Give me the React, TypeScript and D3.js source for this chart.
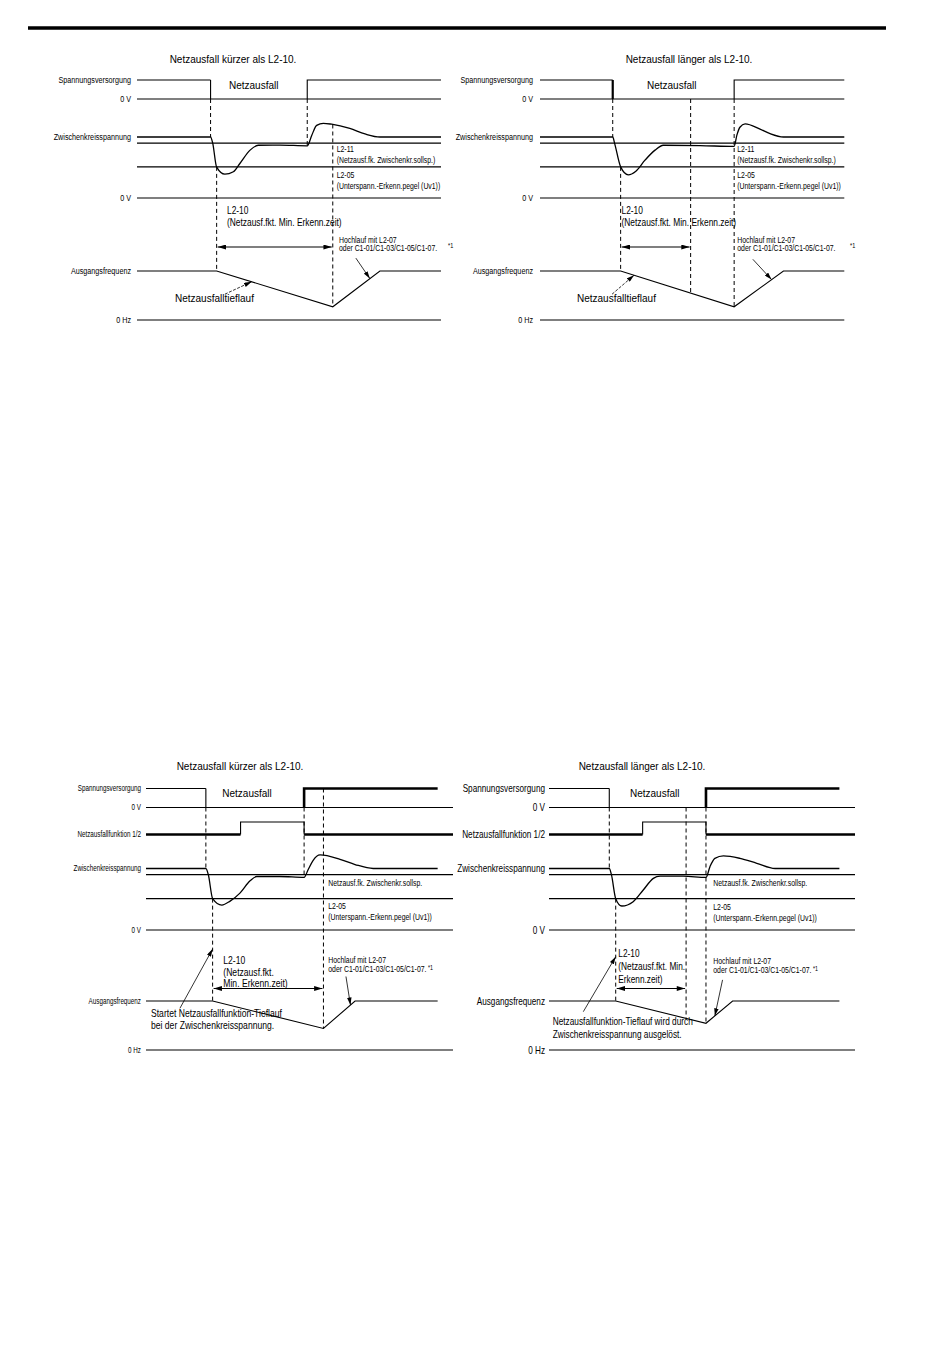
import * as d3 from 'd3';

type Pt = [number, number];

const FONT = "'Liberation Sans', Arial, Helvetica, sans-serif";

// ---------- texts ----------
const TITLES = ['Netzausfall kürzer als L2-10.', 'Netzausfall länger als L2-10.'];
const OUTAGE = 'Netzausfall';
const ROWS_TOP = ['Spannungsversorgung', '0 V', 'Zwischenkreisspannung', '0 V', 'Ausgangsfrequenz', '0 Hz'];
const ROWS_BOTTOM = ['Spannungsversorgung', '0 V', 'Netzausfallfunktion 1/2', 'Zwischenkreisspannung', '0 V', 'Ausgangsfrequenz', '0 Hz'];
const TXT_REF_TOP = ['L2-11', '(Netzausf.fk. Zwischenkr.sollsp.)', 'L2-05', '(Unterspann.-Erkenn.pegel (Uv1))'];
const TXT_REF_BOTTOM = ['Netzausf.fk. Zwischenkr.sollsp.', 'L2-05', '(Unterspann.-Erkenn.pegel (Uv1))'];
const TXT_TIMER_TOP = ['L2-10', '(Netzausf.fkt. Min. Erkenn.zeit)'];
const TXT_TIMER_BL = ['L2-10', '(Netzausf.fkt.', 'Min. Erkenn.zeit)'];
const TXT_TIMER_BR = ['L2-10', '(Netzausf.fkt. Min.', 'Erkenn.zeit)'];
const TXT_ACCEL = ['Hochlauf mit L2-07', 'oder C1-01/C1-03/C1-05/C1-07.'];
const TXT_DECEL_TOP = ['Netzausfalltieflauf'];
const TXT_DECEL_BL = ['Startet Netzausfallfunktion-Tieflauf', 'bei der Zwischenkreisspannung.'];
const TXT_DECEL_BR = ['Netzausfallfunktion-Tieflauf wird durch', 'Zwischenkreisspannung ausgelöst.'];
const NOTE = '*1';

// ---------- values ----------
// DC bus thresholds in % of nominal: L2-11, L2-05
const BUS_LEVELS = [90, 51];

// event times in % of each time axis
const EV_TL = { drop: 24.2, detect: 26.2, restore: 56.0, timerEnd: 64.4, end: 100, pulse: 0 };
const EV_TR = { drop: 23.9, detect: 26.5, restore: 63.8, timerEnd: 49.5, end: 100, pulse: 0 };
const EV_BL = { drop: 19.5, detect: 21.7, restore: 51.5, timerEnd: 57.8, end: 95, pulse: 30.8 };
const EV_BR = { drop: 19.7, detect: 21.8, restore: 51.3, timerEnd: 44.8, end: 94.9, pulse: 30.6 };

// DC bus voltage (time %, voltage % of nominal)
const BUS_TL: Pt[] = [[0, 100], [24.2, 100], [24.9, 90], [26.2, 50.5], [28.9, 39], [31.7, 43], [33.9, 57], [37.2, 78.5], [39.9, 86.5], [47, 86.8], [56, 85.5], [57.5, 103], [59.1, 119], [61.3, 122.5], [64, 121], [70, 114], [75, 105], [79.9, 100], [100, 100]];
const BUS_TR: Pt[] = [[0, 100], [23.9, 100], [24.5, 90], [26.5, 51], [29, 38], [31.5, 44], [34.5, 62], [37.8, 78.5], [40.5, 86.5], [52.6, 86], [63.8, 84.5], [64.7, 103], [65.7, 116], [67.4, 121.5], [72.3, 113], [75.6, 105.5], [80, 100], [100, 100]];
const BUS_BL: Pt[] = [[0, 100], [19.5, 100], [20.3, 90], [21.7, 51], [24.7, 40.5], [27.4, 47], [30.6, 60], [33.9, 80], [36.1, 87], [43.6, 87], [51.5, 85.5], [52.8, 98], [54.4, 113], [56.7, 122], [63.2, 115], [68.1, 106.5], [74, 100], [95, 100]];
const BUS_BR: Pt[] = [[0, 100], [19.7, 100], [20.4, 90], [21.8, 51], [23.8, 39], [27.5, 46], [30.8, 65], [34.1, 84], [36.3, 87.5], [43.9, 87.5], [51.3, 85.5], [52.6, 103], [54.2, 116.5], [57, 120.5], [62.4, 116.5], [67.9, 108.5], [73.9, 100], [94.9, 100]];

// output frequency (time %, % of set frequency)
const FREQ_TL: Pt[] = [[0, 100], [26.2, 100], [64.4, 27], [79.9, 100], [100, 100]];
const FREQ_TR: Pt[] = [[0, 100], [26.5, 100], [63.8, 27], [80, 100], [100, 100]];
const FREQ_BL: Pt[] = [[0, 100], [21.7, 100], [57.8, 44], [68.1, 100], [95, 100]];
const FREQ_BR: Pt[] = [[0, 100], [21.8, 100], [51.3, 54.5], [60, 100], [94.9, 100]];

// ---------- layout ----------
const TOP_ROWS = { supplyHi: 80, supplyLo: 99, funcHi: 0, funcLo: 0, busNom: 137, busZero: 198, freqHi: 271, freqLo: 320 };
const BOTTOM_ROWS = { supplyHi: 788.5, supplyLo: 807.5, funcHi: 822, funcLo: 834.5, busNom: 868.5, busZero: 930, freqHi: 1001, freqLo: 1050 };

const BOX_TL = {
  ...TOP_ROWS, x0: 137, x1: 441, labelX: 131, labelSize: 9.5, labelSx: 0.76,
  titleX: 233, titleY: 59.5, outageX: 229, outageY: 85.5,
  refX: 336.7, refY: [149, 160, 175.5, 186.5],
  timerX: 227, timerY: [210.5, 222.5], timerSize: 10, timerSx: 0.84, arrowY: 247,
  accelX: 339, accelY: [240, 248.5], noteX: 448, noteY: 246,
  decelX: 175, decelY: [298], decelSize: 10, decelSx: 1,
  decelTipT: 37.7, decelTipY: null as number | null, decelTail: [-26.7, 12.4] as Pt,
  accelTipT: 76.6, accelTail: [-14, -20.5] as Pt, dropThick: false,
};
const BOX_TR = {
  ...BOX_TL, x0: 540, x1: 844.3, labelX: 533,
  titleX: 689, outageX: 647,
  refX: 737.3, timerX: 621.5, accelX: 737.3, noteX: 850,
  decelX: 577, decelTipT: 30.9, decelTail: [-22, 19] as Pt,
  accelTipT: 76.1, accelTail: [-18.7, -20.3] as Pt, dropThick: true,
};
const BOX_BL = {
  ...BOTTOM_ROWS, x0: 146, x1: 453, labelX: 141, labelSize: 8.5, labelSx: 0.74,
  titleX: 240, titleY: 766, outageX: 222.3, outageY: 793,
  refX: 328.3, refY: [883.3, 906.5, 917],
  timerX: 223.3, timerY: [960.5, 972, 983.5], timerSize: 10, timerSx: 0.86, arrowY: 988.5,
  accelX: 328.3, accelY: [960, 969.5], noteX: 0, noteY: 0,
  decelX: 151, decelY: [1013, 1025.5], decelSize: 10, decelSx: 0.86,
  decelTipT: EV_BL.detect, decelTipY: 949 as number | null, decelTail: [-32.7, 59.3] as Pt,
  accelTipT: 66.6, accelTail: [-4.5, -28.5] as Pt, dropThick: false,
};
const BOX_BR = {
  ...BOX_BL, x0: 549, x1: 855, labelX: 545, labelSize: 10, labelSx: 0.82,
  titleX: 642, outageX: 630,
  refX: 713.3, refY: [883, 906.7, 918],
  timerX: 618.3, timerY: [953.3, 966.5, 979], timerSx: 0.83,
  accelX: 713.3, accelY: [960.7, 970],
  decelX: 552.7, decelY: [1021.5, 1034.5], decelSx: 0.83,
  decelTipT: EV_BR.detect, decelTipY: 956.7 as number | null, decelTail: [-32.4, 55] as Pt,
  accelTipT: 54.2, accelTail: [7.7, -36] as Pt,
};

type Box = typeof BOX_TL;

interface PanelCfg {
  title: string; rows: string[]; ev: typeof EV_TL; bus: Pt[]; freq: Pt[];
  long: boolean; bottom: boolean; box: Box; refs: string[]; timer: string[]; decel: string[];
}

const PANELS: PanelCfg[] = [
  { title: TITLES[0], rows: ROWS_TOP, ev: EV_TL, bus: BUS_TL, freq: FREQ_TL, long: false, bottom: false, box: BOX_TL, refs: TXT_REF_TOP, timer: TXT_TIMER_TOP, decel: TXT_DECEL_TOP },
  { title: TITLES[1], rows: ROWS_TOP, ev: EV_TR, bus: BUS_TR, freq: FREQ_TR, long: true, bottom: false, box: BOX_TR, refs: TXT_REF_TOP, timer: TXT_TIMER_TOP, decel: TXT_DECEL_TOP },
  { title: TITLES[0], rows: ROWS_BOTTOM, ev: EV_BL, bus: BUS_BL, freq: FREQ_BL, long: false, bottom: true, box: BOX_BL, refs: TXT_REF_BOTTOM, timer: TXT_TIMER_BL, decel: TXT_DECEL_BL },
  { title: TITLES[1], rows: ROWS_BOTTOM, ev: EV_BR, bus: BUS_BR, freq: FREQ_BR, long: true, bottom: true, box: BOX_BR, refs: TXT_REF_BOTTOM, timer: TXT_TIMER_BR, decel: TXT_DECEL_BR },
];

const THIN = 1.1;
const THICK = 2.6;
const DASH = '4,3';

function Txt({ x, y, size, sx = 1, anchor = 'start', children }: any) {
  return (
    <text transform={`translate(${x},${y}) scale(${sx},1)`} dy="0.35em" fontSize={size}
      textAnchor={anchor} fontFamily={FONT} fill="#000">{children}</text>
  );
}

function Panel({ cfg }: { cfg: PanelCfg }) {
  const { box: b, ev, bus, freq, long, bottom } = cfg;
  const x = d3.scaleLinear().domain([0, 100]).range([b.x0, b.x1]);
  const yS = d3.scaleLinear().domain([0, 1]).range([b.supplyLo, b.supplyHi]);
  const yN = d3.scaleLinear().domain([0, 1]).range([b.funcLo, b.funcHi]);
  const yB = d3.scaleLinear().domain([0, 100]).range([b.busZero, b.busNom]);
  const yF = d3.scaleLinear().domain([0, 100]).range([b.freqLo, b.freqHi]);
  const busAt = d3.scaleLinear().domain(bus.map(d => d[0])).range(bus.map(d => d[1]));
  const freqAt = d3.scaleLinear().domain(freq.map(d => d[0])).range(freq.map(d => d[1]));

  const lineS = d3.line<Pt>().x(d => x(d[0])).y(d => yS(d[1]));
  const lineN = d3.line<Pt>().x(d => x(d[0])).y(d => yN(d[1]));
  const lineB = d3.line<Pt>().x(d => x(d[0])).y(d => yB(d[1])).curve(d3.curveMonotoneX);
  const lineF = d3.line<Pt>().x(d => x(d[0])).y(d => yF(d[1]));

  const rowY = bottom
    ? [b.supplyHi, b.supplyLo, b.funcLo, b.busNom, b.busZero, b.freqHi, b.freqLo]
    : [b.supplyHi, b.supplyLo, b.busNom, b.busZero, b.freqHi, b.freqLo];

  const refLines = [b.supplyLo, yB(BUS_LEVELS[0]), yB(BUS_LEVELS[1]), b.busZero, b.freqLo];

  const dashes: [number, number, number][] = [
    [ev.drop, b.supplyLo, yB(100)],
    [ev.detect, yB(BUS_LEVELS[1]), yF(100)],
  ];
  if (!long) {
    dashes.push([ev.restore, b.supplyLo, yB(busAt(ev.restore))]);
    dashes.push([ev.timerEnd, bottom ? b.supplyHi : yB(busAt(ev.timerEnd)), yF(freqAt(ev.timerEnd))]);
  } else {
    dashes.push([ev.timerEnd, b.supplyLo, yF(freqAt(ev.timerEnd))]);
    dashes.push([ev.restore, b.supplyLo, yF(freqAt(ev.restore))]);
  }

  const decelTip: Pt = [x(b.decelTipT), b.decelTipY ?? yF(freqAt(b.decelTipT))];
  const accelTip: Pt = [x(b.accelTipT), yF(freqAt(b.accelTipT))];

  const stroke = { stroke: '#000', fill: 'none' };
  const refSize = 8.5, refSx = 0.81;

  return (
    <g>
      <Txt x={b.titleX} y={b.titleY} size={10} anchor="middle">{cfg.title}</Txt>
      <Txt x={b.outageX} y={b.outageY} size={10}>{OUTAGE}</Txt>

      {cfg.rows.map((r, i) => (
        <Txt key={i} x={b.labelX} y={rowY[i]} size={b.labelSize} sx={b.labelSx} anchor="end">{r}</Txt>
      ))}

      {refLines.map((y, i) => (
        <line key={i} x1={b.x0} x2={b.x1} y1={y} y2={y} {...stroke} strokeWidth={THIN} />
      ))}

      {/* supply voltage */}
      <path d={lineS([[0, 1], [ev.drop, 1]]) || ''} {...stroke} strokeWidth={THIN} />
      <path d={lineS([[ev.drop, 1], [ev.drop, 0]]) || ''} {...stroke} strokeWidth={b.dropThick ? 2.2 : THIN} />
      <path d={lineS([[ev.restore, 0], [ev.restore, 1], [ev.end, 1]]) || ''} {...stroke}
        strokeWidth={bottom ? THICK : THIN} />

      {/* power loss function output */}
      {bottom && (
        <g>
          <path d={lineN([[0, 0], [ev.pulse, 0]]) || ''} {...stroke} strokeWidth={THICK} />
          <path d={lineN([[ev.pulse, 0], [ev.pulse, 1], [ev.restore, 1], [ev.restore, 0]]) || ''} {...stroke} strokeWidth={THIN} />
          <path d={lineN([[ev.restore, 0], [100, 0]]) || ''} {...stroke} strokeWidth={THICK} />
        </g>
      )}

      {/* DC bus + frequency */}
      <path d={lineB(bus) || ''} {...stroke} strokeWidth={1.3} />
      <path d={lineF(freq) || ''} {...stroke} strokeWidth={THIN} />

      {dashes.map(([t, y1, y2], i) => (
        <line key={i} x1={x(t)} x2={x(t)} y1={y1} y2={y2} {...stroke} strokeWidth={1} strokeDasharray={DASH} />
      ))}

      {/* L2-10 time arrow */}
      <line x1={x(ev.detect) + 1} x2={x(ev.timerEnd) - 1} y1={b.arrowY} y2={b.arrowY} {...stroke}
        strokeWidth={THIN} markerStart="url(#ah)" markerEnd="url(#ah)" />

      {cfg.refs.map((s, i) => (
        <Txt key={i} x={b.refX} y={b.refY[i]} size={refSize} sx={refSx}>{s}</Txt>
      ))}
      {cfg.timer.map((s, i) => (
        <Txt key={i} x={b.timerX} y={b.timerY[i]} size={b.timerSize} sx={b.timerSx}>{s}</Txt>
      ))}
      <Txt x={b.accelX} y={b.accelY[0]} size={refSize} sx={refSx}>{TXT_ACCEL[0]}</Txt>
      <Txt x={b.accelX} y={b.accelY[1]} size={refSize} sx={refSx}>
        {TXT_ACCEL[1]}
        {bottom && <tspan fontSize={6.5} dy={-2}>{' ' + NOTE}</tspan>}
      </Txt>
      {!bottom && <Txt x={b.noteX} y={b.noteY} size={6.5} sx={0.85}>{NOTE}</Txt>}
      {cfg.decel.map((s, i) => (
        <Txt key={i} x={b.decelX} y={b.decelY[i]} size={b.decelSize} sx={b.decelSx}>{s}</Txt>
      ))}

      {/* pointers */}
      <line x1={decelTip[0] + b.decelTail[0]} y1={decelTip[1] + b.decelTail[1]} x2={decelTip[0]} y2={decelTip[1]}
        {...stroke} strokeWidth={0.8} strokeDasharray={bottom ? undefined : '3,1.5'} markerEnd="url(#ahs)" />
      <line x1={accelTip[0] + b.accelTail[0]} y1={accelTip[1] + b.accelTail[1]} x2={accelTip[0]} y2={accelTip[1]}
        {...stroke} strokeWidth={0.8} markerEnd="url(#ahs)" />
    </g>
  );
}

export default function App() {
  return (
    <svg width={950} height={1369} style={{ position: 'absolute', left: 0, top: 0, background: '#fff' }}>
      <defs>
        <marker id="ah" viewBox="0 0 10 6" refX="10" refY="3" markerWidth="9" markerHeight="5"
          markerUnits="userSpaceOnUse" orient="auto-start-reverse">
          <path d="M0,0 L10,3 L0,6 z" fill="#000" />
        </marker>
        <marker id="ahs" viewBox="0 0 10 6" refX="10" refY="3" markerWidth="8" markerHeight="4.5"
          markerUnits="userSpaceOnUse" orient="auto-start-reverse">
          <path d="M0,0 L10,3 L0,6 z" fill="#000" />
        </marker>
      </defs>
      <rect width={950} height={1369} fill="#fff" />
      <line x1={28} x2={886} y1={28} y2={28} stroke="#000" strokeWidth={3.5} />
      {PANELS.map((p, i) => <Panel key={i} cfg={p} />)}
    </svg>
  );
}
